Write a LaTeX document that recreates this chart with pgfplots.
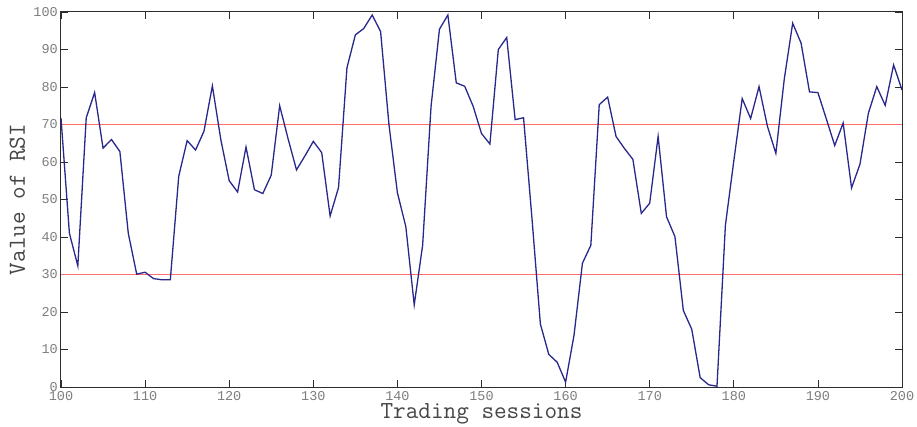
\documentclass[border=0pt]{standalone}
\usepackage{fontspec}
\usepackage{pgfplots}
\usepackage{pgfplotstable}
\pgfplotsset{compat=1.18}
\newfontfamily\tickfont{Liberation Mono}
\definecolor{rsiline}{RGB}{40,40,140}
\definecolor{bandline}{RGB}{255,110,110}
\definecolor{framegray}{RGB}{45,45,45}
\definecolor{tickgray}{RGB}{125,125,125}
\definecolor{labelgray}{RGB}{70,70,70}

% RSI value for each trading session
\pgfplotstableread{
s rsi
100 71.7
101 41
102 32.3
103 71.8
104 78.5
105 63.7
106 66
107 62.8
108 41
109 30.1
110 30.6
111 28.9
112 28.6
113 28.6
114 56.2
115 65.7
116 63.2
117 68.2
118 80.3
119 66
120 55
121 52
122 64
123 52.6
124 51.6
125 56.5
126 75
127 66.2
128 57.9
129 61.6
130 65.5
131 62.5
132 45.6
133 53.2
134 85.1
135 93.9
136 95.6
137 99.2
138 94.8
139 69.9
140 51.8
141 42.8
142 21.9
143 37.8
144 74.8
145 95.4
146 99.2
147 81.1
148 80.2
149 74.9
150 67.6
151 64.8
152 90
153 93.2
154 71.3
155 71.8
156 45
157 16.8
158 8.7
159 6.6
160 1.3
161 13.8
162 33
163 37.8
164 75.3
165 77.3
166 66.8
167 63.6
168 60.7
169 46.3
170 49
171 66.8
172 45.4
173 40.1
174 20.4
175 15.4
176 2.5
177 0.6
178 0.2
179 43.1
180 60.3
181 76.9
182 71.6
183 80.1
184 69.5
185 62.3
186 82.1
187 97
188 91.7
189 78.7
190 78.5
191 71.5
192 64.4
193 70.4
194 53.1
195 59.4
196 73
197 80.1
198 75.1
199 85.9
200 79.2
}\rsidata

\begin{document}
\begin{tikzpicture}
\useasboundingbox (-61pt,-39pt) rectangle (856pt,387pt);
\begin{axis}[
  scale only axis,
  width=841pt, height=375pt,
  xmin=100, xmax=200, ymin=0, ymax=100,
  xtick={100,110,...,200},
  ytick={0,10,...,100},
  tick align=inside,
  major tick length=7pt,
  tick style={framegray, line width=0.8pt},
  axis line style={framegray, line width=1pt},
  /pgf/number format/assume math mode=true,
  ticklabel style={font=\tickfont\fontsize{13.5}{13.5}\selectfont, text=tickgray, inner sep=0pt},
  xticklabel style={anchor=north, yshift=-4pt},
  yticklabel style={anchor=east, xshift=-3pt},
  xlabel={Trading sessions},
  ylabel={Value of RSI},
  xlabel style={font=\ttfamily\fontsize{24.5}{24.5}\selectfont, text=labelgray,
    at={([yshift=-31.5pt]axis description cs:0.5,0)}, anchor=base, inner sep=0pt},
  ylabel style={font=\ttfamily\fontsize{24.5}{24.5}\selectfont, text=labelgray,
    at={([xshift=-36pt]axis description cs:0,0.5)}, anchor=base, inner sep=0pt},
]
  % overbought / oversold bands
  \addplot[bandline, line width=0.8pt, forget plot] coordinates {(100,70) (200,70)};
  \addplot[bandline, line width=0.8pt, forget plot] coordinates {(100,30) (200,30)};
  % RSI series
  \addplot[rsiline, line width=1.3pt, mark=none] table[x=s, y=rsi] {\rsidata};
\end{axis}
\end{tikzpicture}
\end{document}
